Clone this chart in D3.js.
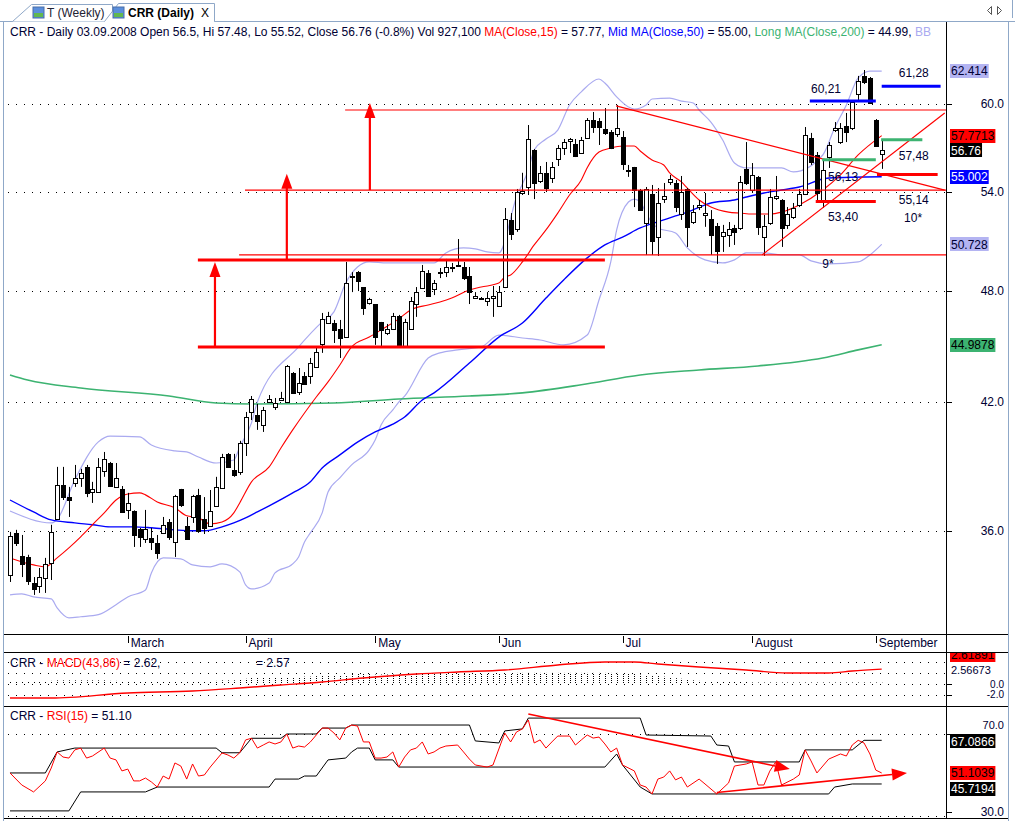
<!DOCTYPE html>
<html>
<head>
<meta charset="utf-8">
<script src="https://cdn.jsdelivr.net/npm/d3@7"></script>
<style>
body { margin: 0; background: #fff; }
text { font-family: "Liberation Sans", Arial, sans-serif; white-space: pre; }
</style>
</head>
<body>
<script>
// daily bars, 1 Feb 2008 .. 3 Sep 2008
const opens = [34.15,35.92,34.94,34.90,33.83,33.71,34.03,34.65,36.52,38.04,37.49,38.13,38.36,38.87,37.72,37.72,38.68,39.05,37.95,37.86,
36.92,36.87,36.09,35.66,35.70,35.49,35.92,36.39,35.53,37.86,36.22,36.61,37.59,36.52,36.22,37.10,37.90,39.48,38.73,38.64,
40.00,41.51,41.36,40.87,42.01,41.76,42.11,42.01,43.49,42.52,43.34,43.34,43.80,45.02,46.17,46.17,45.84,45.40,48.78,49.07,
48.20,47.29,47.23,46.23,45.62,45.84,46.57,44.93,45.84,47.23,48.14,49.01,48.09,49.01,49.07,49.31,49.46,49.37,48.84,47.57,
47.52,47.40,47.57,47.12,48.20,52.23,51.67,53.94,54.33,56.79,54.72,55.26,54.92,56.18,56.92,57.40,57.20,56.58,57.61,58.86,
58.79,58.23,58.02,57.89,57.68,55.45,55.65,54.13,52.04,53.87,51.17,53.55,54.65,54.59,52.60,54.20,52.10,53.04,52.54,52.29,
51.86,51.24,51.30,51.73,51.73,55.51,54.13,54.99,51.17,52.04,53.62,53.49,51.92,52.42,53.17,53.87,57.61,56.45,53.49,56.31,
58.16,57.33,58.44,58.30,60.72,62.05,61.90,58.86,56.50];
const highs = [35.96,36.05,35.83,34.99,34.07,34.44,34.86,36.27,38.87,38.87,37.95,38.96,38.78,38.96,38.18,39.28,39.57,39.10,39.05,37.99,
37.68,36.90,36.13,36.92,36.13,35.83,36.61,36.52,37.59,37.86,36.61,37.59,37.86,37.49,37.81,38.41,39.48,39.52,39.48,40.10,
41.51,42.31,41.91,41.76,42.36,42.21,42.52,43.91,43.54,43.75,43.54,44.28,44.82,46.73,46.79,46.34,46.34,49.67,49.07,49.13,
48.20,47.58,47.23,46.23,46.12,46.73,46.62,46.40,47.63,48.20,49.49,49.19,48.61,49.31,49.85,49.61,51.05,49.67,49.37,47.91,
47.63,47.91,48.26,48.26,52.98,52.66,54.20,55.26,58.51,56.85,55.71,55.98,55.98,57.13,57.54,57.61,57.54,57.68,59.00,59.43,
59.00,59.71,58.16,59.93,58.09,55.78,55.65,54.20,54.33,54.46,54.26,54.59,55.12,54.79,55.05,54.26,53.17,53.49,53.94,52.85,
52.04,51.92,52.10,51.92,55.05,57.33,55.91,55.05,52.54,54.20,55.05,53.55,53.04,53.30,54.20,58.37,57.96,56.65,56.18,57.33,
58.72,58.65,59.36,60.22,62.05,62.49,61.97,58.93,57.48];
const lows = [33.87,35.36,34.07,33.75,33.35,33.43,33.43,33.95,36.48,37.36,36.61,37.95,37.95,37.49,37.23,37.68,38.41,37.95,37.90,36.79,
36.52,35.32,35.32,35.49,35.19,34.82,35.87,35.62,34.90,37.05,35.62,36.35,35.92,35.87,36.18,37.05,37.86,38.82,38.41,38.50,
39.38,41.11,40.63,40.53,41.96,41.61,42.06,41.96,42.47,42.36,42.88,42.93,43.75,44.55,46.17,45.08,44.28,45.40,47.91,47.97,
46.62,47.20,44.98,44.87,45.51,45.79,44.87,44.87,45.79,46.51,48.09,47.63,47.74,48.72,48.78,49.07,49.43,48.61,47.23,47.52,
47.46,47.12,46.51,47.07,48.14,50.99,51.49,53.81,53.81,53.55,54.59,54.00,54.59,55.71,56.45,56.58,56.31,56.58,57.61,57.96,
57.13,57.82,56.85,57.68,55.45,54.99,53.04,52.79,50.09,50.09,50.03,53.30,54.46,52.72,52.23,50.57,51.98,52.85,51.80,50.09,
49.55,50.27,50.57,50.69,51.61,54.46,54.00,51.30,50.03,51.92,53.49,50.57,51.67,52.29,53.04,53.81,55.78,53.36,52.98,55.58,
58.02,57.20,57.33,58.16,60.14,61.45,60.00,57.00,55.52];
const closes = [35.79,35.49,34.61,33.91,33.59,34.07,34.61,35.96,38.04,37.49,37.36,38.36,38.59,37.68,37.86,38.87,39.24,37.99,38.36,36.83,
37.23,35.83,35.75,36.09,35.53,35.07,36.27,35.75,37.54,37.14,35.66,37.54,36.00,36.13,36.87,37.95,39.33,38.87,38.50,40.00,
41.26,42.16,41.06,41.61,42.16,41.96,42.21,43.86,42.47,42.98,42.93,44.01,44.60,46.40,46.57,45.79,45.35,48.43,48.84,48.55,
47.01,47.52,45.40,45.79,45.84,46.57,44.87,46.23,47.40,47.91,49.13,47.68,48.43,49.07,49.37,49.37,49.49,48.72,47.91,47.68,
47.57,47.57,47.68,47.91,52.29,51.36,54.00,54.07,57.54,54.59,55.26,54.26,55.65,56.92,57.33,57.54,56.38,57.47,58.86,58.37,
58.37,57.96,56.92,58.30,55.84,55.38,54.13,52.85,54.20,50.93,53.30,53.74,54.85,53.04,54.00,51.80,52.72,53.17,52.66,51.30,
50.33,51.49,51.67,51.49,54.65,54.59,55.12,51.80,51.86,53.68,53.74,51.73,52.60,52.98,53.87,57.82,55.98,53.94,55.45,57.13,
58.30,58.30,58.02,60.14,61.68,61.60,60.07,57.06,56.76];

const monthTicks = [["March",20],["April",40],["May",62],["Jun",83],["Jul",104],["August",126],["September",147]];
const priceTicks = [36, 42, 48, 54, 60];

// indicator lines, [bar, value]
const ma15 = [[0,34.86],[4,34.57],[6,34.49],[8,34.86],[10,35.28],[12,35.75],[14,36.27],[16,36.79],[18,37.36],[20,37.63],[22,37.68],[23,37.59],[25,37.27],[28,37.01],[30,36.66],[32,36.57],[34,36.31],[36,36.39],[38,36.79],[39,37.23],[41,38.18],[44,38.87],[46,39.76],[48,40.63],[50,41.46],[52,42.26],[54,43.03],[56,43.91],[58,44.87],[61,45.40],[63,45.79],[66,46.40],[68,46.90],[71,47.18],[73,47.35],[75,47.57],[78,48.03],[80,48.20],[83,48.43],[84,48.78],[85,48.90],[87,49.67],[89,50.69],[91,51.61],[93,52.66],[95,53.81],[97,54.79],[98,55.60],[100,56.65],[102,56.92],[104,57.06],[106,57.06],[107,56.72],[109,56.11],[111,55.78],[112,55.25],[114,54.66],[115,54.26],[117,53.49],[119,53.04],[122,52.72],[124,52.66],[126,52.60],[129,52.60],[131,52.72],[134,53.17],[138,54.13],[141,55.12],[144,56.45],[148,57.77]];
const ma50 = [[0,37.36],[4,36.83],[7,36.48],[11,36.35],[14,36.27],[17,36.18],[21,36.18],[24,36.14],[28,36.05],[31,36.01],[33,36.01],[36,36.18],[38,36.35],[40,36.57],[42,36.83],[44,37.10],[48,37.68],[51,38.18],[53,38.82],[56,39.43],[59,40.04],[62,40.53],[65,40.91],[67,41.26],[70,42.11],[72,42.47],[78,44.01],[83,45.40],[87,46.17],[91,47.57],[94,48.61],[98,49.91],[101,50.69],[104,51.17],[107,51.73],[111,52.23],[113,52.48],[115,52.72],[119,53.30],[123,53.49],[125,53.68],[128,53.94],[131,54.13],[134,54.33],[139,54.92],[148,55.00]];
const ma200 = [[0,43.39],[3,43.13],[12,42.72],[27,42.31],[35,41.96],[41,41.91],[55,41.96],[66,42.16],[78,42.31],[87,42.47],[97,42.88],[107,43.39],[117,43.65],[127,43.86],[138,44.28],[144,44.71],[148,44.99]];
const bbUpper = [[0,36.87],[7,36.35],[8,36.50],[11,38.27],[15,40.05],[17,40.33],[22,40.29],[24,39.90],[28,39.62],[30,39.57],[32,39.33],[35,39.05],[38,39.19],[39,39.81],[41,40.97],[42,42.01],[49,44.87],[53,46.23],[55,46.79],[57,48.43],[59,49.37],[61,49.67],[64,49.61],[69,49.61],[72,49.61],[74,50.21],[77,50.51],[79,50.45],[81,50.27],[83,50.21],[86,53.68],[88,55.45],[89,56.79],[91,57.54],[93,58.16],[95,59.93],[97,60.88],[100,61.82],[101,61.53],[103,60.51],[105,59.79],[106,59.64],[108,59.93],[109,60.36],[112,60.43],[114,60.21],[116,60.07],[117,59.57],[119,58.72],[121,57.47],[123,55.91],[125,55.58],[131,55.58],[133,55.32],[138,56.45],[140,58.30],[142,59.93],[144,61.90],[146,62.41],[148,62.41]];
const bbLower = [[0,33.35],[2,33.39],[4,33.27],[7,33.19],[8,32.84],[10,32.45],[12,32.49],[15,32.57],[18,32.96],[20,33.27],[23,33.55],[24,34.24],[26,34.86],[29,34.82],[31,34.57],[34,34.49],[36,34.61],[39,34.28],[40,33.75],[41,33.59],[44,33.83],[45,34.24],[48,34.61],[49,34.90],[50,35.53],[51,35.92],[53,36.79],[54,37.72],[56,38.36],[58,38.96],[61,39.67],[62,40.14],[63,40.87],[65,41.61],[66,42.00],[67,42.30],[71,44.28],[73,44.55],[76,44.71],[80,44.87],[83,45.51],[87,45.35],[90,45.24],[94,44.98],[98,45.51],[100,47.46],[102,49.67],[103,51.61],[105,53.36],[106,53.55],[107,53.36],[108,52.66],[109,52.04],[110,51.73],[113,51.42],[115,50.51],[118,49.79],[121,49.61],[123,49.79],[125,50.21],[128,50.21],[131,50.09],[134,50.09],[136,49.73],[139,49.55],[144,49.67],[146,50.09],[148,50.73]];

const macd = [[0,-2.83],[7,-2.83],[20,-1.89],[31,-1.51],[39,-0.94],[46,-0.38],[53,0.19],[60,0.94],[69,1.70],[76,2.08],[84,2.45],[93,3.40],[101,3.96],[106,3.96],[110,3.58],[117,3.02],[125,2.45],[132,1.89],[139,1.89],[143,2.26],[148,2.62]];
const macdHist = [0.3,0.3,0.2,0.2,0.2,0.3,0.3,0.4,0.5,0.5,0.5,0.5,0.5,0.5,0.5,0.5,0.5,0.4,0.4,0.3,
0.3,0.3,0.2,0.2,0.2,0.2,0.2,0.3,0.3,0.3,0.3,0.3,0.3,0.3,0.3,0.4,0.5,0.5,0.5,0.6,
0.8,1.0,1.0,1.0,1.0,1.0,1.1,1.1,1.1,1.1,1.2,1.2,1.3,1.4,1.5,1.5,1.4,1.5,1.7,1.7,
1.7,1.7,1.6,1.6,1.6,1.6,1.6,1.6,1.7,1.7,1.8,1.8,1.8,1.8,1.8,1.8,1.8,1.8,1.7,1.7,
1.7,1.7,1.7,1.7,1.8,1.8,1.9,1.9,1.9,1.9,1.9,1.9,1.9,1.9,1.9,1.9,1.9,1.9,1.9,1.9,
1.9,1.9,1.9,1.9,1.8,1.8,1.7,1.6,1.5,1.4,1.3,1.2,1.0,0.9,0.8,0.6,0.5,0.4,0.3,0.3,
0.2,0.2,0.2,0.2,0.2,0.2,0.1,0.1,0.1,0.1,0.1,0.1,0.1,0.1,0.1,0.1,0.1,0.1,0.1,0.1,
0.1,0.1,0.1,0.1,0.1,0.1,0.1,0.1,0.05];

const rsi = [[0,51.1],[2,45.2],[4,41.8],[6,47.2],[7,53.5],[8,61.4],[9,58.9],[10,58.4],[11,62.4],[12,63.3],[13,58.4],[14,59.4],[16,63.3],[17,58.4],[18,57.5],[19,52.1],[20,53.0],[21,47.2],[22,47.2],[23,48.6],[24,46.7],[25,44.2],[26,49.6],[27,48.1],[28,56.0],[29,54.5],[30,48.1],[31,55.5],[32,49.6],[33,50.1],[34,54.0],[36,60.9],[37,59.9],[38,58.4],[39,61.0],[40,67.3],[41,68.1],[42,63.3],[43,64.8],[44,66.3],[45,65.3],[46,66.3],[47,70.2],[48,63.3],[49,64.3],[50,63.8],[51,66.3],[53,73.1],[54,73.1],[55,70.7],[56,67.3],[57,73.1],[58,74.6],[59,74.1],[60,66.3],[61,66.3],[62,58.4],[63,58.4],[64,58.9],[65,61.4],[66,54.0],[67,58.9],[68,62.4],[69,63.3],[70,66.3],[71,60.4],[72,61.4],[73,63.3],[74,64.3],[76,64.8],[77,61.4],[78,57.9],[79,55.0],[81,54.0],[82,55.0],[84,70.7],[85,66.3],[86,71.2],[87,72.7],[88,77.1],[89,65.8],[90,67.3],[91,63.3],[92,66.3],[93,69.2],[95,69.2],[96,64.8],[97,67.3],[98,69.7],[99,68.2],[100,68.7],[101,65.3],[102,61.4],[103,63.3],[104,55.0],[106,52.1],[107,45.2],[108,44.2],[109,40.8],[110,48.1],[111,49.1],[112,52.1],[113,47.7],[114,49.1],[115,44.2],[117,48.1],[118,45.7],[120,40.8],[122,46.2],[123,54.5],[125,55.5],[126,56.5],[127,45.2],[128,45.2],[129,52.0],[130,56.5],[131,45.2],[133,48.1],[134,50.1],[135,62.4],[136,57.0],[137,51.1],[139,57.9],[141,60.4],[142,59.4],[143,64.8],[144,67.1],[145,65.8],[146,60.4],[147,52.5],[148,51.1]];
const rsiHigh = [[0,51.1],[6,51.1],[8,61.4],[11,63.3],[35,63.3],[36,61.0],[39,61.0],[41,68.1],[46,68.1],[47,70.2],[52,70.2],[53,73.1],[57,73.1],[58,74.6],[78,74.6],[79,66.8],[83,65.8],[84,71.7],[87,72.7],[88,78.0],[107,78.0],[108,69.7],[119,69.2],[120,64.8],[122,64.3],[123,56.5],[134,56.5],[135,62.4],[143,62.4],[145,67.1],[148,67.1]];
const rsiLow = [[0,32.5],[10,32.5],[12,41.8],[23,41.8],[25,44.2],[44,44.2],[45,48.1],[49,48.1],[50,49.6],[52,49.6],[54,57.5],[57,58.4],[58,61.4],[59,63.3],[61,63.3],[62,57.5],[65,57.5],[66,54.0],[101,54.0],[103,60.4],[104,55.0],[107,44.2],[109,40.8],[139,40.8],[140,44.2],[143,45.7],[148,45.7]];

// hand drawn annotations: [price, fromBar, toBar]
const thickRed = [[44.86,31.9,101],[49.79,31.9,101],[55.14,147.2,157.5],[53.40,136.8,147]];
const thinRed = [[50.09,38.9,160],[54.13,39.9,160],[59.57,56.9,160]];
const greenLevels = [[56.13,137.9,147],[57.48,147.9,154.9]];
const blueLevels = [[60.21,135.8,147],[61.28,148,158]];
const upArrows = [[34.8,44.86,49.67],[47,49.79,55.2],[61.1,54.13,60.07]];
const trendLines = [[[102.9,59.86],[158.7,54.13]],[[127.7,50.09],[158.7,59.36]]];
const levelNotes = [["61,28",150.9,61.28,-9],["60,21",136,60.21,-8],["57,48",150.9,57.48,20],["56,13",138.9,56.13,21],["55,14",150.9,55.14,29],["53,40",138.9,53.40,20]];
const waveNotes = [["10*",151.8,52.1],["9*",137.9,49.3]];
const rsiArrows = [[[88,80],[132.4,53.0]],[[120,41.5],[152.3,51.1]]];

const navy = "#000033", lav = "#aaaaf0", green = "#3cb371";

const svg = d3.select("body").append("svg")
    .attr("width", 1015)
    .attr("height", 821)
    .style("display", "block")

svg.append("rect").attr("width", 1015).attr("height", 821).attr("fill", "#fff")

const x = d3.scaleLinear().domain([0, 148]).range([10, 881.7]);
const y = d3.scaleLog().domain([36, 60]).range([531, 104]);
const yMacd = d3.scaleLinear().domain([0, 2.62]).range([683, 669.1]);
const yRsi = d3.scaleLinear().domain([30, 70]).range([816, 734.4]);
const px = v => Math.round(v) + 0.5;

const defs = svg.append("defs");
defs.append("clipPath").attr("id", "clipMain").append("rect").attr("x", 4).attr("y", 42).attr("width", 942).attr("height", 592);
defs.append("clipPath").attr("id", "clipMacd").append("rect").attr("x", 4).attr("y", 653).attr("width", 942).attr("height", 53);
defs.append("clipPath").attr("id", "clipRsi").append("rect").attr("x", 4).attr("y", 707).attr("width", 942).attr("height", 111);
defs.append("clipPath").attr("id", "clipMacdAxis").append("rect").attr("x", 947).attr("y", 653).attr("width", 61).attr("height", 53);

// ---- tabs ----
const tabs = svg.append("g");
tabs.append("line").attr("x1", 0).attr("x2", 1015).attr("y1", 21.5).attr("y2", 21.5).attr("stroke", "#8fa8c8")
tabs.append("path").attr("d", "M12.5,21.5 L31.5,4.5 L112.5,4.5 L112.5,21.5").attr("fill", "#fff").attr("stroke", "#8fa8c8")
tabs.append("path").attr("d", "M104.5,21.5 L118.5,3.5 L214.5,3.5 L214.5,21.5").attr("fill", "#fff").attr("stroke", "#8fa8c8")
tabs.append("line").attr("x1", 105).attr("x2", 214).attr("y1", 21.5).attr("y2", 21.5).attr("stroke", "#fff")
;[33, 113].forEach(ix => {
    tabs.append("rect").attr("x", ix).attr("y", 7).attr("width", 11).attr("height", 11).attr("fill", "#5b8fdc").attr("stroke", "#4a6fa8")
    tabs.append("rect").attr("x", ix + 1).attr("y", 13).attr("width", 9).attr("height", 4).attr("fill", "#62b84f")
})
tabs.append("text").attr("x", 47).attr("y", 17).attr("font-size", 12).attr("fill", "#223").text("T (Weekly)")
tabs.append("text").attr("x", 128).attr("y", 17).attr("font-size", 12).attr("font-weight", "bold").attr("fill", "#000").text("CRR (Daily)")
tabs.append("text").attr("x", 201).attr("y", 17).attr("font-size", 12).attr("fill", "#000").text("X")
tabs.append("path").attr("d", "M991.5,6.5 L987.5,10.5 L991.5,14.5 Z").attr("fill", "none").attr("stroke", "#555")
tabs.append("path").attr("d", "M997.5,6.5 L1001.5,10.5 L997.5,14.5 Z").attr("fill", "none").attr("stroke", "#555")
tabs.append("line").attr("x1", 1012.5).attr("x2", 1012.5).attr("y1", 0).attr("y2", 18).attr("stroke", "#8fa8c8")

// ---- header ----
const header = svg.append("text").attr("x", 10).attr("y", 36).attr("font-size", 12)
;[["CRR - Daily 03.09.2008 Open 56.5, Hi 57.48, Lo 55.52, Close 56.76 (-0.8%) Vol 927,100 ", navy],
  ["MA(Close,15)", "#ff0000"], [" = 57.77, ", navy], ["Mid MA(Close,50)", "#0000ff"], [" = 55.00, ", navy],
  ["Long MA(Close,200)", green], [" = 44.99, ", navy], ["BB", lav]].forEach(s => {
    header.append("tspan").attr("fill", s[1]).text(s[0])
})

// ---- frame ----
const frame = svg.append("g").attr("stroke", "#000")
;[634.5, 652.5, 706.5, 818.5].forEach(v => {
    frame.append("line").attr("x1", 3).attr("x2", 1008).attr("y1", v).attr("y2", v)
})
frame.append("line").attr("x1", 946.5).attr("x2", 946.5).attr("y1", 22).attr("y2", 818)
svg.append("line").attr("x1", 3.5).attr("x2", 3.5).attr("y1", 22).attr("y2", 821).attr("stroke", "#8fa8c8")
svg.append("line").attr("x1", 1008.5).attr("x2", 1008.5).attr("y1", 22).attr("y2", 821).attr("stroke", "#8fa8c8")

// ---- main panel ----
const main = svg.append("g").attr("clip-path", "url(#clipMain)");

main.selectAll(".grid").data(priceTicks).join("line")
    .attr("class", "grid")
    .attr("x1", 8).attr("x2", 946)
    .attr("y1", d => px(y(d))).attr("y2", d => px(y(d)))
    .attr("stroke", "#000").attr("stroke-dasharray", "1,7")

const priceLine = d3.line().x(d => x(d[0])).y(d => y(d[1])).curve(d3.curveMonotoneX);
[[bbUpper, lav, 1.2], [bbLower, lav, 1.2], [ma200, green, 1.6], [ma50, "#0000ff", 1.4], [ma15, "#ff0000", 1.1]].forEach(s => {
    main.append("path").attr("d", priceLine(s[0])).attr("fill", "none").attr("stroke", s[1]).attr("stroke-width", s[2])
})

const candles = main.selectAll(".candle").data(d3.range(closes.length)).join("g").attr("class", "candle");
candles.append("line")
    .attr("x1", i => px(x(i))).attr("x2", i => px(x(i)))
    .attr("y1", i => y(highs[i])).attr("y2", i => y(lows[i]))
    .attr("stroke", "#000")
candles.append("rect")
    .attr("x", i => Math.round(x(i)) - 2 + 0.5)
    .attr("width", 4)
    .attr("y", i => Math.round(y(Math.max(opens[i], closes[i]))) + 0.5)
    .attr("height", i => Math.max(1, Math.round(y(Math.min(opens[i], closes[i]))) - Math.round(y(Math.max(opens[i], closes[i])))))
    .attr("fill", i => closes[i] >= opens[i] ? "#fff" : "#000")
    .attr("stroke", "#000")

// annotations
const notes = main.append("g");
thinRed.forEach(d => {
    notes.append("line").attr("x1", x(d[1])).attr("x2", x(d[2])).attr("y1", y(d[0])).attr("y2", y(d[0])).attr("stroke", "#ff0000").attr("stroke-width", 1.2)
})
trendLines.forEach(d => {
    notes.append("line").attr("x1", x(d[0][0])).attr("y1", y(d[0][1])).attr("x2", x(d[1][0])).attr("y2", y(d[1][1])).attr("stroke", "#ff0000").attr("stroke-width", 1.2)
})
thickRed.forEach(d => {
    notes.append("line").attr("x1", x(d[1])).attr("x2", x(d[2])).attr("y1", y(d[0])).attr("y2", y(d[0])).attr("stroke", "#ff0000").attr("stroke-width", 3)
})
greenLevels.forEach(d => {
    notes.append("line").attr("x1", x(d[1])).attr("x2", x(d[2])).attr("y1", y(d[0])).attr("y2", y(d[0])).attr("stroke", green).attr("stroke-width", 3)
})
blueLevels.forEach(d => {
    notes.append("line").attr("x1", x(d[1])).attr("x2", x(d[2])).attr("y1", y(d[0])).attr("y2", y(d[0])).attr("stroke", "#0000ff").attr("stroke-width", 3)
})
upArrows.forEach(d => {
    const cx = x(d[0]), tip = y(d[2]);
    notes.append("line").attr("x1", cx).attr("x2", cx).attr("y1", y(d[1])).attr("y2", tip + 12).attr("stroke", "#ff0000").attr("stroke-width", 2.2)
    notes.append("path").attr("d", `M${cx},${tip} L${cx - 5.5},${tip + 15} L${cx + 5.5},${tip + 15} Z`).attr("fill", "#ff0000")
})
levelNotes.forEach(d => {
    notes.append("text").attr("x", x(d[1])).attr("y", y(d[2]) + d[3]).attr("font-size", 12).attr("fill", navy).text(d[0])
})
waveNotes.forEach(d => {
    notes.append("text").attr("x", x(d[1])).attr("y", y(d[2])).attr("font-size", 12).attr("fill", navy).text(d[0])
})

// ---- right axis labels ----
const axisG = svg.append("g");
const macdAxis = svg.append("g").attr("clip-path", "url(#clipMacdAxis)");
function plainLabel(g, yy, txt, size) {
    g.append("line").attr("x1", 946).attr("x2", 952).attr("y1", px(yy)).attr("y2", px(yy)).attr("stroke", "#000")
    g.append("text").attr("x", 1004).attr("y", yy).attr("dy", "0.35em").attr("text-anchor", "end")
        .attr("font-size", size || 12).attr("fill", navy).text(txt)
}
function boxLabel(g, yy, txt, bg, fg) {
    const t = g.append("text").attr("x", 951).attr("y", yy).attr("dy", "0.35em")
        .attr("font-size", 12).attr("fill", fg).text(txt)
    const w = t.node().getComputedTextLength();
    g.insert("rect", () => t.node()).attr("x", 950).attr("y", Math.round(yy) - 7).attr("width", w + 2).attr("height", 14).attr("fill", bg)
}
priceTicks.forEach(v => plainLabel(axisG, y(v), v.toFixed(1)))
boxLabel(axisG, y(62.414), "62.414", "#b4b4f2", navy)
boxLabel(axisG, y(57.7713), "57.7713", "#ff0000", "#000")
boxLabel(axisG, y(56.76), "56.76", "#000", "#fff")
boxLabel(axisG, y(55.002), "55.002", "#0000ff", "#fff")
boxLabel(axisG, y(50.728), "50.728", "#b4b4f2", navy)
boxLabel(axisG, y(44.9878), "44.9878", green, "#000")

// ---- month axis ----
const months = svg.append("g");
months.selectAll("line").data(monthTicks).join("line")
    .attr("x1", d => px(x(d[1]))).attr("x2", d => px(x(d[1])))
    .attr("y1", 636).attr("y2", 643).attr("stroke", "#000")
months.selectAll("text").data(monthTicks).join("text")
    .attr("x", d => x(d[1]) + 3).attr("y", 647)
    .attr("font-size", 12).attr("fill", navy).text(d => d[0])

// ---- MACD panel ----
const macdG = svg.append("g").attr("clip-path", "url(#clipMacd)");
[662, 673, 684, 695].forEach(v => {
    macdG.append("line").attr("x1", 8).attr("x2", 946).attr("y1", v + 0.5).attr("y2", v + 0.5).attr("stroke", "#000").attr("stroke-dasharray", "1,7")
})
macdG.selectAll(".hist").data(macdHist).join("line")
    .attr("class", "hist")
    .attr("x1", (d, i) => px(x(i))).attr("x2", (d, i) => px(x(i)))
    .attr("y1", yMacd(0)).attr("y2", d => yMacd(d))
    .attr("stroke", "#000").attr("stroke-dasharray", "1,1")
macdG.append("path")
    .attr("d", d3.line().x(d => x(d[0])).y(d => yMacd(d[1])).curve(d3.curveMonotoneX)(macd))
    .attr("fill", "none").attr("stroke", "#ff0000").attr("stroke-width", 1.4)
const macdTitle = svg.append("text").attr("x", 10).attr("y", 667).attr("font-size", 12)
macdTitle.append("tspan").attr("fill", navy).text("CRR - ")
macdTitle.append("tspan").attr("fill", "#ff0000").text("MACD(43,86)")
macdTitle.append("tspan").attr("fill", navy).text(" = 2.62,")
svg.append("text").attr("x", 256).attr("y", 667).attr("font-size", 12).attr("fill", navy).text("= 2.57")
boxLabel(macdAxis, 655, "2.61891", "#ff0000", "#000")
macdAxis.append("text").attr("x", 951).attr("y", 670).attr("dy", "0.35em").attr("font-size", 11).attr("fill", navy).text("2.56673")
plainLabel(macdAxis, yMacd(0) + 1, "0.0", 10)
plainLabel(macdAxis, yMacd(-2) + 1, "-2.0", 10)

// ---- RSI panel ----
const rsiG = svg.append("g").attr("clip-path", "url(#clipRsi)");
[70, 30].forEach(v => {
    rsiG.append("line").attr("x1", 8).attr("x2", 946).attr("y1", px(yRsi(v))).attr("y2", px(yRsi(v))).attr("stroke", "#000").attr("stroke-dasharray", "1,7")
})
const rsiLine = d3.line().x(d => x(d[0])).y(d => yRsi(d[1]));
rsiG.append("path").attr("d", rsiLine(rsiHigh)).attr("fill", "none").attr("stroke", "#000").attr("stroke-width", 1)
rsiG.append("path").attr("d", rsiLine(rsiLow)).attr("fill", "none").attr("stroke", "#000").attr("stroke-width", 1)
rsiG.append("path").attr("d", rsiLine(rsi)).attr("fill", "none").attr("stroke", "#ff0000").attr("stroke-width", 1)
rsiArrows.forEach(d => {
    const x1 = x(d[0][0]), y1 = yRsi(d[0][1]), x2 = x(d[1][0]), y2 = yRsi(d[1][1]);
    const a = Math.atan2(y2 - y1, x2 - x1), L = 15, W = 6;
    const bx = x2 - L * Math.cos(a), by = y2 - L * Math.sin(a);
    rsiG.append("line").attr("x1", x1).attr("y1", y1).attr("x2", bx).attr("y2", by).attr("stroke", "#ff0000").attr("stroke-width", 1.6)
    rsiG.append("path")
        .attr("d", `M${x2},${y2} L${bx - W * Math.sin(a)},${by + W * Math.cos(a)} L${bx + W * Math.sin(a)},${by - W * Math.cos(a)} Z`)
        .attr("fill", "#ff0000")
})
const rsiTitle = svg.append("text").attr("x", 10).attr("y", 720).attr("font-size", 12)
rsiTitle.append("tspan").attr("fill", navy).text("CRR - ")
rsiTitle.append("tspan").attr("fill", "#ff0000").text("RSI(15)")
rsiTitle.append("tspan").attr("fill", navy).text(" = 51.10")
axisG.append("line").attr("x1", 946).attr("x2", 952).attr("y1", px(yRsi(70))).attr("y2", px(yRsi(70))).attr("stroke", "#000")
axisG.append("text").attr("x", 1004).attr("y", 725).attr("dy", "0.35em").attr("text-anchor", "end").attr("font-size", 11).attr("fill", navy).text("70.0")
plainLabel(axisG, yRsi(30) - 4, "30.0")
boxLabel(axisG, yRsi(67.0866) + 1, "67.0866", "#000", "#fff")
boxLabel(axisG, yRsi(51.1039), "51.1039", "#ff0000", "#000")
boxLabel(axisG, 789, "45.7194", "#000", "#fff")
</script>
</body>
</html>
